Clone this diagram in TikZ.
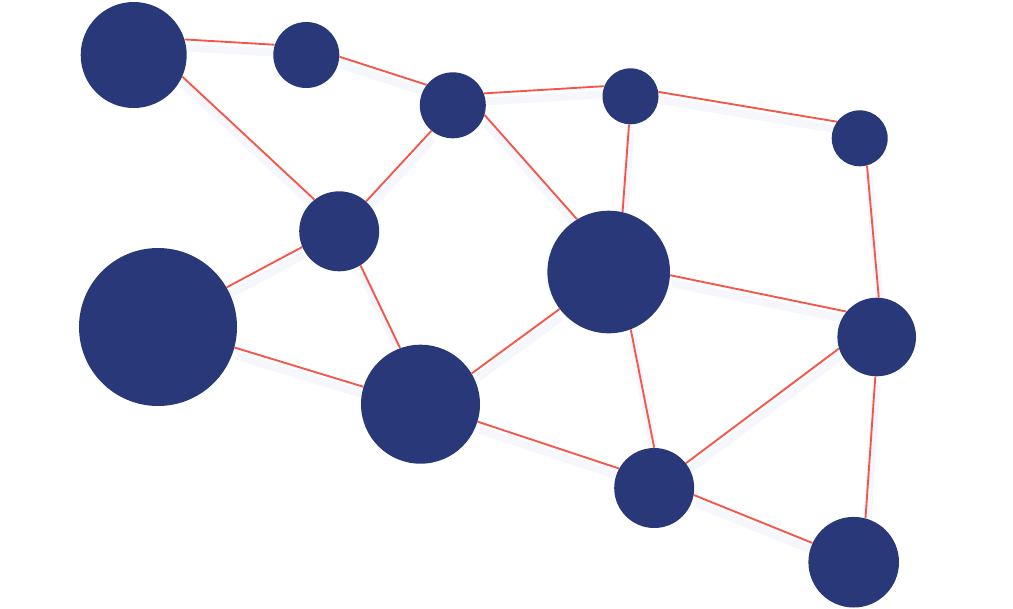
\documentclass[tikz,border=0pt]{standalone}
\usepackage{xcolor}
\usetikzlibrary{backgrounds}
\definecolor{qnavy}{RGB}{40,56,121}
\definecolor{qred}{RGB}{246,86,74}
\definecolor{qshade}{RGB}{245,247,252}

\begin{document}
\begin{tikzpicture}[x=0.75pt,y=-0.75pt,
  hub/.style={circle, fill=qnavy, inner sep=0pt, minimum size=#1*1.5pt},
  link/.style={draw=qred, line width=1.4pt},
  shade/.style={draw=qshade, line width=6pt}]

\useasboundingbox (0,0) rectangle (1013,608);

%hubs:
\node[hub=53] (a) at (133.7,55) {};
\node[hub=33] (b) at (306.3,55) {};
\node[hub=33] (c) at (452.8,105.3) {};
\node[hub=28] (d) at (630.5,96.3) {};
\node[hub=28] (e) at (859.7,138.3) {};
\node[hub=40] (f) at (339.2,231.3) {};
\node[hub=79] (g) at (158,327) {};
\node[hub=61.3] (h) at (608.7,272) {};
\node[hub=59.5] (i) at (420.5,404.2) {};
\node[hub=39.3] (j) at (876.7,337) {};
\node[hub=40] (k) at (654.2,488) {};
\node[hub=45.3] (l) at (853.7,562.2) {};

%links: node/angle -- node/angle
\def\links{a/17.6/b/162.8, b/-3/c/142, c/21/d/159, d/9.5/e/144,
  d/-93/h/77, c/-17/h/121, c/-130/f/48.8, a/-24/f/128.7,
  f/-157.7/g/30, g/-15.2/i/163, f/-58.8/i/110, i/31/h/-143,
  i/-17.9/k/151, h/-69/k/90, h/-3.7/j/140, k/38.5/j/-163.6,
  e/-75.8/j/87.6, j/-92.5/l/75.6, k/-10/l/155}

\begin{pgfonlayer}{background}
%soft shadow under the links
\begin{scope}[transform canvas={xshift=1pt,yshift=-6pt}]
\foreach \p/\s/\q/\t in \links
  \draw[shade] (\p.\s) -- (\q.\t);
\end{scope}
\foreach \p/\s/\q/\t in \links
  \draw[link] (\p.\s) -- (\q.\t);
\end{pgfonlayer}

\end{tikzpicture}
\end{document}
